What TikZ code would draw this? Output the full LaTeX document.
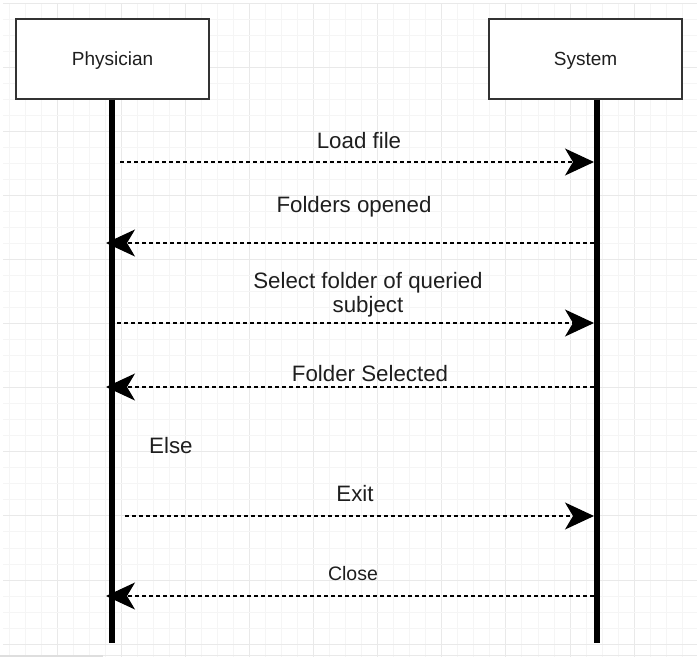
\documentclass[tikz,border=0pt]{standalone}
\usepackage{fontspec}
\setmainfont{Liberation Sans}
\usetikzlibrary{arrows.meta}

\definecolor{gridminor}{RGB}{245,245,245}
\definecolor{gridmajor}{RGB}{233,233,233}
\definecolor{boxline}{RGB}{51,51,51}
\definecolor{labeltext}{RGB}{30,30,30}
\definecolor{barline}{RGB}{222,222,222}

\tikzset{
  actor/.style={draw=boxline, line width=1.3pt, fill=white, minimum width=193pt,
    minimum height=80pt, inner sep=0pt, text=labeltext, text depth=0pt,
    font=\fontsize{19}{22}\selectfont},
  lifeline/.style={line width=6.5pt, black},
  msgline/.style={dash pattern=on 4pt off 3pt, line width=1.2pt, black,
    -{Stealth[length=29pt, width=27pt, inset=8pt]}},
  msglabel/.style={text=labeltext, inner sep=0pt, anchor=base,
    font=\fontsize{22.3}{24}\selectfont, align=center},
  smalllabel/.style={msglabel, font=\fontsize{19.5}{22}\selectfont}
}

\begin{document}
\begin{tikzpicture}[x=1pt, y=-1pt]
  \useasboundingbox (0,0) rectangle (697,657);
  \fill[white] (0,0) rectangle (697,657);

  % background grid: minor lines every 16px, major every fourth
  \foreach \i in {1,...,44} {
    \pgfmathsetmacro{\gx}{-7+16.03*\i}
    \pgfmathtruncatemacro{\ismajor}{mod(\i,4)==0}
    \ifnum\ismajor=1
      \draw[gridmajor, line width=1pt] (\gx,3) -- (\gx,657);
    \else
      \draw[gridminor, line width=1pt] (\gx,3) -- (\gx,657);
    \fi
  }
  \foreach \j in {0,...,40} {
    \pgfmathsetmacro{\gy}{3+16.03*\j}
    \pgfmathtruncatemacro{\ismajor}{mod(\j,4)==0}
    \ifnum\ismajor=1
      \draw[gridmajor, line width=1pt] (3,\gy) -- (697,\gy);
    \else
      \draw[gridminor, line width=1pt] (3,\gy) -- (697,\gy);
    \fi
  }
  \draw[gridmajor, line width=1.5pt] (0,655.5) -- (697,655.5);
  \draw[barline, line width=2pt] (0,655.5) -- (103,655.5);

  % participants
  \node[actor] (phys) at (112.5,59) {Physician};
  \node[actor] (sys)  at (585.5,59) {System};

  % lifelines
  \coordinate (physTop) at (112,99.5);
  \coordinate (physBot) at (112,643);
  \coordinate (sysTop)  at (597,99.5);
  \coordinate (sysBot)  at (597,643);
  \draw[lifeline] (physTop) -- (physBot);
  \draw[lifeline] (sysTop) -- (sysBot);

  % message end points on the lifelines
  \coordinate (loadA) at (120,162);   \coordinate (loadB) at (594,162);
  \coordinate (openA) at (594,243);   \coordinate (openB) at (106,243);
  \coordinate (selA)  at (117,323);   \coordinate (selB)  at (594,323);
  \coordinate (doneA) at (594,387);   \coordinate (doneB) at (106,387);
  \coordinate (exitA) at (125,516);   \coordinate (exitB) at (594,516);
  \coordinate (closA) at (594,596);   \coordinate (closB) at (106,596);

  % messages
  \draw[msgline] (loadA) -- (loadB);
  \draw[msgline] (openA) -- (openB);
  \draw[msgline] (selA) -- (selB);
  \draw[msgline] (doneA) -- (doneB);
  \draw[msgline] (exitA) -- (exitB);
  \draw[msgline] (closA) -- (closB);

  % message labels (base of a two-line label is its last line)
  \node[msglabel] (loadL) at (359,148) {Load file};
  \node[msglabel] (openL) at (354,212) {Folders opened};
  \node[msglabel] (selL)  at (368,312) {Select folder of queried\\subject};
  \node[msglabel] (doneL) at (370,381) {Folder Selected};
  \node[msglabel, anchor=base west] (elseL) at (149,453) {Else};
  \node[msglabel] (exitL) at (355,501) {Exit};
  \node[smalllabel] (closL) at (353,580) {Close};
\end{tikzpicture}
\end{document}
